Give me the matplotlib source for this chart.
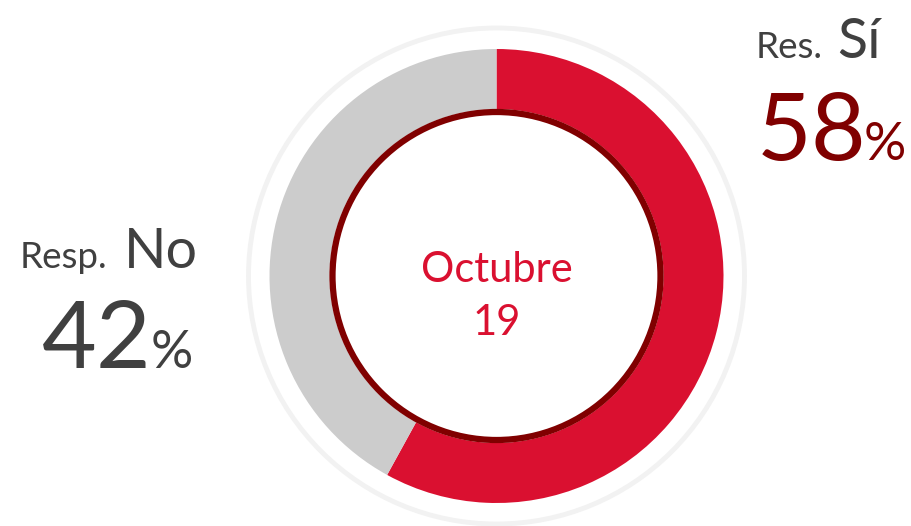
import matplotlib.pyplot as plt
from matplotlib.patches import Circle

# data
labels = ["Res. Sí", "Resp. No"]
values = [58, 42]
colors = ["#DA1030", "#CCCCCC"]
center_text = "Octubre\n19"

W, H = 912, 526
plt.rcParams['font.family'] = ['Lato', 'DejaVu Sans']

fig = plt.figure(figsize=(W / 100, H / 100), dpi=100)
ax = fig.add_axes([0, 0, 1, 1])

cx, cy = 496.5, H - 276

ax.pie(values, colors=colors, startangle=90, counterclock=False,
       radius=227, center=(cx, cy),
       wedgeprops=dict(width=60, linewidth=0))

# faint outer ring
ax.add_patch(Circle((cx, cy), 248, fill=False, edgecolor="#F2F2F2", lw=3.5))

# inner circle
ax.add_patch(Circle((cx, cy), 164, facecolor="white", edgecolor="#800000", lw=4.5, zorder=5))
ax.text(cx, H - 282, "Octubre", ha='center', va='baseline', fontsize=30,
        color="#DA1030", zorder=6)
ax.text(cx, H - 335, "19", ha='center', va='baseline', fontsize=30,
        color="#DA1030", zorder=6)

# labels
grey = "#404040"
dark = "#800000"
ax.text(756, H - 58, "Res.", ha='left', va='baseline', fontsize=26.5, color=grey)
ax.text(837, H - 58, "Sí", ha='left', va='baseline', fontsize=40, color=grey)
ax.text(757, H - 160, "%d" % values[0], ha='left', va='baseline', fontsize=68, color=dark)
ax.text(864, H - 160, "%", ha='left', va='baseline', fontsize=38, color=dark)

ax.text(20, H - 268, "Resp.", ha='left', va='baseline', fontsize=26.5, color=grey)
ax.text(124, H - 268, "No", ha='left', va='baseline', fontsize=40, color=grey)
ax.text(42, H - 368, "%d" % values[1], ha='left', va='baseline', fontsize=68, color=grey)
ax.text(151, H - 368, "%", ha='left', va='baseline', fontsize=38, color=grey)

ax.set_xlim(0, W)
ax.set_ylim(0, H)
ax.set_aspect('equal')
ax.axis('off')

fig.savefig("out.png", dpi=100)
